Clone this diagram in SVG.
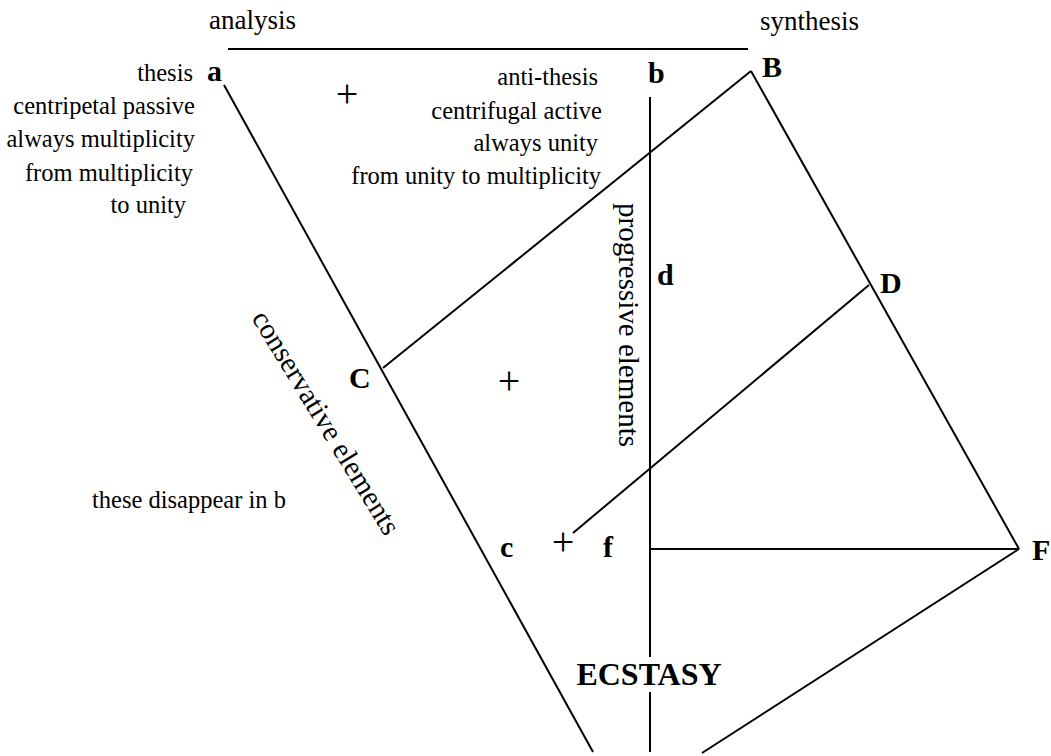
<svg xmlns="http://www.w3.org/2000/svg" width="1051" height="756" viewBox="0 0 1051 756">
<style>
  .ln { stroke: #000; stroke-width: 2; fill: none; }
  .t { font-family: "Liberation Serif", "Times New Roman", serif; font-size: 24.5px; fill: #000; }
  .h { font-family: "Liberation Serif", "Times New Roman", serif; font-size: 27px; fill: #000; }
  .r { font-family: "Liberation Serif", "Times New Roman", serif; font-size: 29px; fill: #000; }
  .b { font-family: "Liberation Serif", "Times New Roman", serif; font-size: 30px; font-weight: bold; fill: #000; }
  .p { font-family: "Liberation Serif", "Times New Roman", serif; font-size: 40px; fill: #000; text-anchor: middle; }
  .e { text-anchor: end; }
</style>
<rect width="1051" height="756" fill="#fff"/>
<g id="connectors">
  <line class="ln" x1="228" y1="49" x2="748" y2="49"/>
  <line class="ln" x1="224" y1="85" x2="593" y2="752"/>
  <line class="ln" x1="650" y1="97" x2="650" y2="657"/>
  <line class="ln" x1="650" y1="692" x2="650" y2="752"/>
  <line class="ln" x1="751" y1="71" x2="383" y2="368"/>
  <line class="ln" x1="751" y1="71" x2="1019" y2="549"/>
  <line class="ln" x1="869" y1="285" x2="573" y2="533"/>
  <line class="ln" x1="651" y1="549" x2="1019" y2="549"/>
  <line class="ln" x1="1019" y1="549" x2="702" y2="753"/>
</g>
<g id="header">
  <text class="h" x="209" y="29">analysis</text>
  <text class="h" x="760" y="30">synthesis</text>
</g>
<g id="node-a">
  <text class="b" x="207" y="81">a</text>
  <text class="t e" x="193" y="81">thesis</text>
  <text class="t e" x="195" y="114">centripetal passive</text>
  <text class="t e" x="195" y="147">always multiplicity</text>
  <text class="t e" x="193" y="181">from multiplicity</text>
  <text class="t e" x="186" y="213">to unity</text>
</g>
<g id="node-b">
  <text class="b" x="648" y="83">b</text>
  <text class="t e" x="598" y="85">anti-thesis</text>
  <text class="t e" x="602" y="119">centrifugal active</text>
  <text class="t e" x="598" y="151">always unity</text>
  <text class="t e" x="601" y="184">from unity to multiplicity</text>
</g>
<g id="node-B"><text class="b" x="762" y="77">B</text></g>
<g id="node-C"><text class="b" x="349" y="388">C</text></g>
<g id="node-c"><text class="b" x="500" y="557">c</text></g>
<g id="node-d"><text class="b" x="657" y="285">d</text></g>
<g id="node-D"><text class="b" x="880" y="293">D</text></g>
<g id="node-f"><text class="b" x="603" y="557">f</text></g>
<g id="node-F"><text class="b" x="1032" y="560">F</text></g>
<g id="plus">
  <text class="p" x="347" y="107">+</text>
  <text class="p" x="509" y="394">+</text>
  <text class="p" x="563" y="555">+</text>
</g>
<g id="labels">
  <text class="r" transform="translate(619,203) rotate(90)">progressive elements</text>
  <text class="r" transform="translate(251,318) rotate(58.5)">conservative elements</text>
  <text class="t" x="92" y="508">these disappear in b</text>
  <text class="b" x="649" y="685" text-anchor="middle" style="font-size:32px">ECSTASY</text>
</g>
</svg>
